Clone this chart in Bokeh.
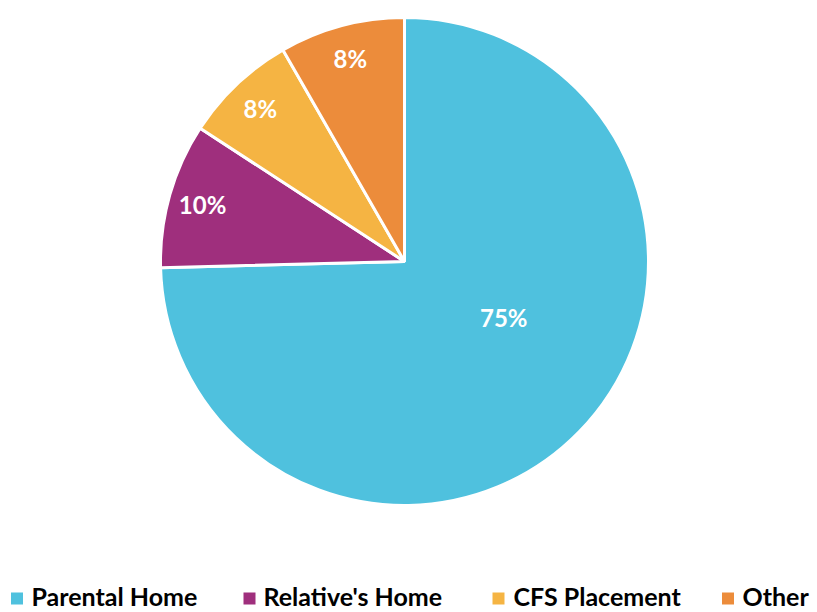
import math
from bokeh.plotting import figure
from bokeh.models import ColumnDataSource, Range1d
from bokeh.core.properties import value
from bokeh.embed import file_html
from bokeh.resources import INLINE

categories = ["Parental Home", "Relative's Home", "CFS Placement", "Other"]
shares = [74.6, 9.6, 7.5, 8.3]
labels = ["75%", "10%", "8%", "8%"]
colors = ["#4FC1DE", "#9F2F7D", "#F5B443", "#EC8C3B"]

W, H = 817, 612
cx, cy, R = 404, H - 261, 244

total = sum(shares)
starts, ends, lx, ly = [], [], [], []
cum = 0.0
for i, s in enumerate(shares):
    a_end = math.pi / 2 - 2 * math.pi * cum / total
    cum += s
    a_start = math.pi / 2 - 2 * math.pi * cum / total
    starts.append(a_start)
    ends.append(a_end)
    mid = (a_start + a_end) / 2
    if i == 0:
        ang = math.radians(-29.5)
        rr = 114
    else:
        ang = mid
        rr = 0.86 * R
    lx.append(cx + rr * math.cos(ang))
    ly.append(cy + rr * math.sin(ang))

src = ColumnDataSource(dict(start=starts, end=ends, color=colors, lx=lx, ly=ly, label=labels))

p = figure(width=W, height=H, x_range=Range1d(0, W), y_range=Range1d(0, H),
           output_backend="svg", toolbar_location=None, min_border=0)
p.axis.visible = False
p.grid.visible = False
p.outline_line_color = None
p.background_fill_color = "white"
p.border_fill_color = "white"

p.wedge(x=cx, y=cy, radius=R, start_angle="start", end_angle="end", direction="anticlock",
        fill_color="color", line_color="white", line_width=3, source=src)

p.text(x="lx", y="ly", text="label", source=src, text_color="white",
       text_font=value("Lato"), text_font_style="bold", text_font_size="24px",
       text_align="center", text_baseline="middle")

# legend
leg_sq_x = [16.5, 249, 498, 727.5]
leg_tx = [31, 263, 513, 742]
leg_src = ColumnDataSource(dict(sx=leg_sq_x, tx=leg_tx, name=categories, color=colors))
p.rect(x="sx", y=H - 598, width=12, height=12, fill_color="color", line_color=None, source=leg_src)
p.text(x="tx", y=H - 595, text="name", source=leg_src, text_color="black",
       text_font=value("Lato"), text_font_style="bold", text_font_size="25px",
       text_align="left", text_baseline="middle")

open("out.html", "w").write(file_html(p, INLINE))
